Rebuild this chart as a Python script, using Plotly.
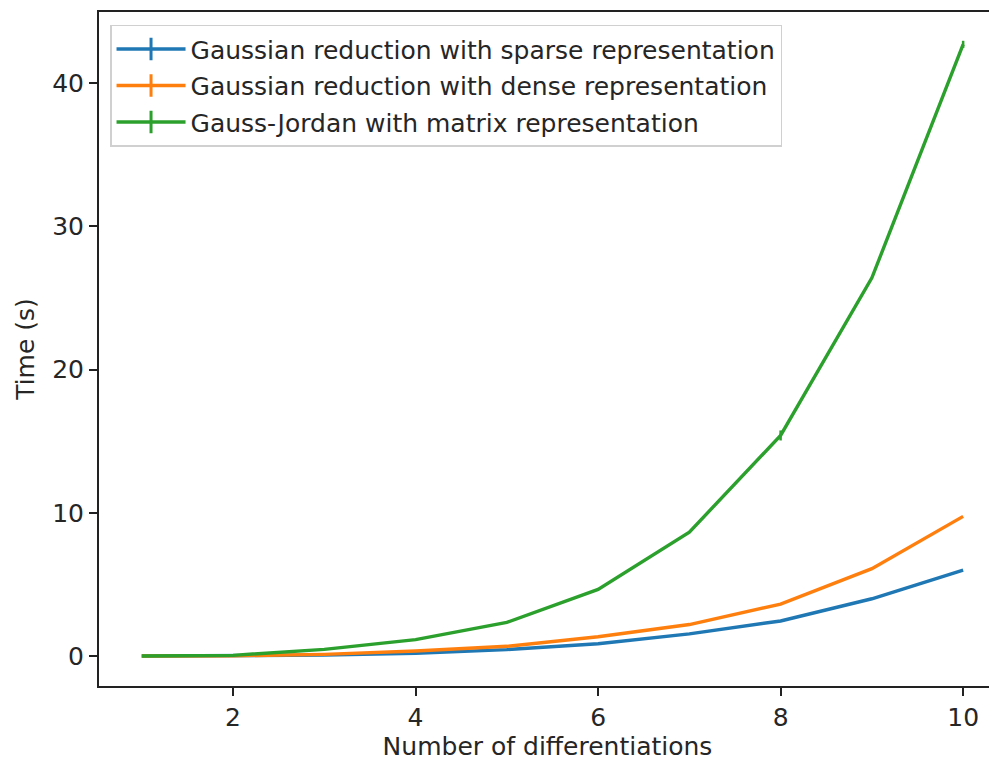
import plotly.graph_objects as go

x_vals = [1, 2, 3, 4, 5, 6, 7, 8, 9, 10]
sparse = [0.0, 0.01, 0.07, 0.2, 0.45, 0.86, 1.55, 2.45, 4.0, 6.0]
dense = [0.0, 0.02, 0.12, 0.35, 0.68, 1.35, 2.2, 3.63, 6.1, 9.75]
gauss_jordan = [0.0, 0.05, 0.47, 1.15, 2.35, 4.65, 8.65, 15.4, 26.4, 42.7]
gj_err = [0, 0, 0, 0, 0, 0, 0, 0.35, 0, 0.25]

names = ["Gaussian reduction with sparse representation",
         "Gaussian reduction with dense representation",
         "Gauss-Jordan with matrix representation"]
colors = ["#1f77b4", "#ff7f0e", "#2ca02c"]
series = [sparse, dense, gauss_jordan]
errors = [[0]*10, [0]*10, gj_err]

fig = go.Figure()
for name, col, ys, err in zip(names, colors, series, errors):
    fig.add_trace(go.Scatter(
        x=x_vals, y=ys, mode="lines", line=dict(color=col, width=3.4),
        error_y=dict(type="data", array=err, visible=True, color=col, thickness=2.5, width=0),
        showlegend=False))
for i, (name, col) in enumerate(zip(names, colors)):
    fig.add_trace(go.Scatter(
        x=[None], y=[None], mode="lines+markers", name=name, legendgroup=f"g{i}",
        line=dict(color=col, width=3.4),
        marker=dict(symbol="line-ns", size=22, line=dict(color=col, width=3))))

font_family = "DejaVu Sans"
fig.update_layout(
    width=989, height=758,
    margin=dict(l=91, r=1, t=4, b=80),
    paper_bgcolor="white", plot_bgcolor="white",
    font=dict(family=font_family, size=25, color="#262626"),
    legend=dict(x=0.0123, y=0.981, xanchor="left", yanchor="top",
                bordercolor="#d0d0d0", borderwidth=1.5, bgcolor="rgba(255,255,255,0.8)",
                font=dict(size=25, family=font_family), tracegroupgap=1, itemwidth=69),
    xaxis=dict(range=[0.5315, 10.36], tickvals=[2, 4, 6, 8, 10], showgrid=False, zeroline=False,
               showline=True, linecolor="#222", linewidth=2, mirror=True,
               ticks="outside", ticklen=8, tickwidth=2, tickcolor="#222",
               title=dict(text="Number of differentiations", font=dict(size=25), standoff=6)),
    yaxis=dict(range=[-2.09, 44.96], tickvals=[0, 10, 20, 30, 40], showgrid=False, zeroline=False,
               showline=True, linecolor="#222", linewidth=2,
               ticks="outside", ticklen=8, tickwidth=2, tickcolor="#222",
               title=dict(text="Time (s)", font=dict(size=25), standoff=10)),
)
fig.write_html("out.html")
